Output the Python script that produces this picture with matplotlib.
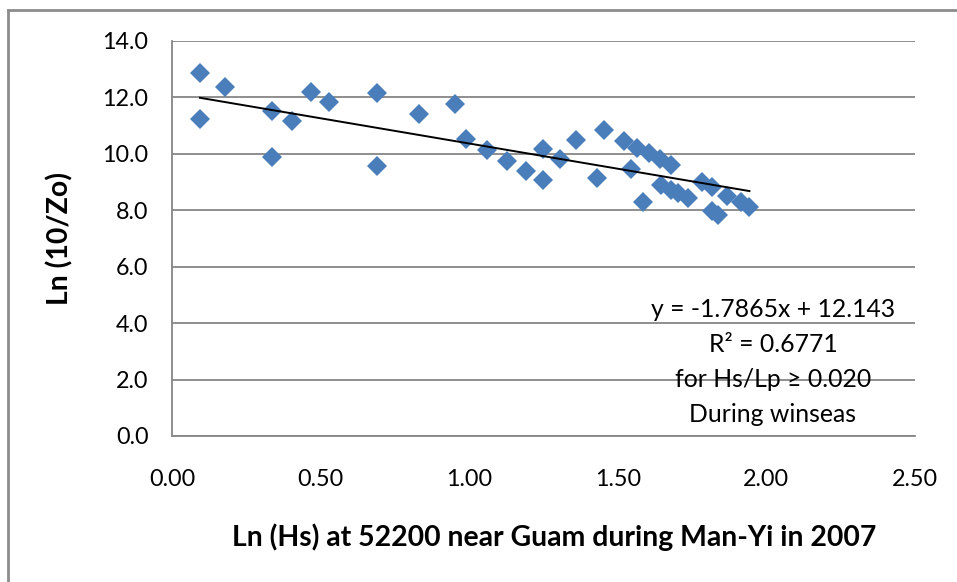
import numpy as np
import matplotlib.pyplot as plt
from matplotlib.lines import Line2D

plt.rcParams['font.family'] = ['Lato', 'DejaVu Sans']

# ln(Hs) and ln(10/Zo) pairs at buoy 52200
ln_hs = [0.094, 0.094, 0.180, 0.335, 0.335, 0.403, 0.467, 0.528, 0.690, 0.690,
         0.830, 0.951, 0.990, 1.061, 1.127, 1.190, 1.248, 1.248, 1.304, 1.358,
         1.430, 1.455, 1.520, 1.545, 1.564, 1.605, 1.584, 1.643, 1.680, 1.646,
         1.680, 1.702, 1.736, 1.784, 1.817, 1.817, 1.836, 1.867, 1.913, 1.943]
ln_zo = [12.87, 11.22, 12.37, 11.52, 9.89, 11.16, 12.17, 11.84, 12.16, 9.56,
         11.39, 11.77, 10.51, 10.11, 9.74, 9.40, 10.16, 9.07, 9.81, 10.49,
         9.13, 10.82, 10.43, 9.46, 10.21, 10.01, 8.28, 9.80, 9.58, 8.89,
         8.71, 8.60, 8.41, 9.01, 8.81, 7.97, 7.83, 8.50, 8.30, 8.12]

slope = -1.7865
intercept = 12.143
r2 = 0.6771

xticks = [0.0, 0.5, 1.0, 1.5, 2.0, 2.5]
yticks = [0, 2, 4, 6, 8, 10, 12, 14]

fig = plt.figure(figsize=(9.57, 5.82), dpi=100)
ax = fig.add_axes([172/957, 1 - 436/582, (915 - 172)/957, (436 - 40.6)/582])

grey = '#868686'
ax.set_xlim(0, 2.5)
ax.set_ylim(0, 14)
ax.set_xticks(xticks)
ax.set_yticks(yticks)
ax.set_xticklabels(['%.2f' % v for v in xticks])
ax.set_yticklabels(['%.1f' % v for v in yticks])
ax.tick_params(axis='both', length=0, labelsize=16.8)
ax.tick_params(axis='x', pad=24)
ax.tick_params(axis='y', pad=17)
ax.grid(axis='y', color=grey, lw=1.3)
ax.set_axisbelow(True)
for s in ['top', 'right']:
    ax.spines[s].set_visible(False)
ax.spines['left'].set_color(grey)
ax.spines['left'].set_linewidth(1.3)
ax.spines['bottom'].set_color(grey)
ax.spines['bottom'].set_linewidth(1.3)

ax.plot(ln_hs, ln_zo, 'D', color='#4A7EBB', ms=9.7, mew=0, zorder=3)

xs = np.array([min(ln_hs), max(ln_hs)])
ax.plot(xs, slope * xs + intercept, color='black', lw=1.4, zorder=4)

note = ('y = %.4fx + %.3f\nR\u00b2 = %.4f\nfor Hs/Lp \u2265 0.020\nDuring winseas'
        % (slope, intercept, r2))
ax.text(2.022, 2.62, note, ha='center', va='center', fontsize=17.8,
        linespacing=1.62, zorder=5)

ax.set_xlabel('Ln (Hs) at 52200 near Guam during Man-Yi in 2007',
              fontsize=20.4, fontweight='bold', labelpad=24)
ax.xaxis.label.set_x(0.514)
ax.set_ylabel('Ln (10/Zo)', fontsize=20.4, fontweight='bold', labelpad=21)

# outer chart frame
fc = '#8c8c8c'
fig.add_artist(Line2D([8/957, 8/957], [0, 1 - 10/582], color=fc, lw=2,
                      transform=fig.transFigure))
fig.add_artist(Line2D([8/957, 1], [1 - 10/582, 1 - 10/582], color=fc, lw=2,
                      transform=fig.transFigure))

fig.savefig('out.png', dpi=100)
